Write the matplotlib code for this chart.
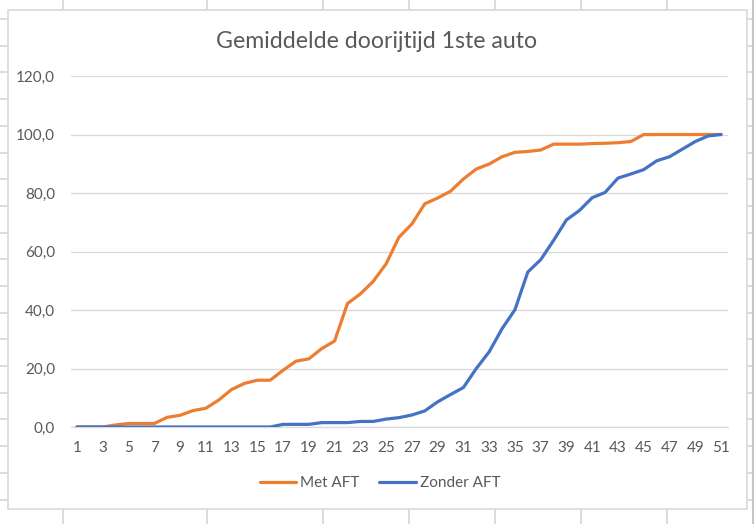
import matplotlib
matplotlib.use("Agg")
import matplotlib.pyplot as plt
from matplotlib.lines import Line2D
from matplotlib.patches import Rectangle
from matplotlib.ticker import FuncFormatter, MultipleLocator

plt.rcParams['font.family'] = ['Lato', 'DejaVu Sans']

title = "Gemiddelde doorijtijd 1ste auto"
categories = list(range(1, 52))
met_aft = [0, 0, 0, 0.7, 1.2, 1.2, 1.2, 3.3, 4.0, 5.6,
           6.4, 9.2, 12.8, 14.9, 16.0, 16.0, 19.4, 22.5, 23.3, 26.8,
           29.4, 42.2, 45.5, 49.8, 55.8, 64.9, 69.4, 76.3, 78.3, 80.6,
           84.8, 88.2, 89.9, 92.4, 93.9, 94.2, 94.7, 96.7, 96.7, 96.7,
           96.9, 97.0, 97.2, 97.6, 100, 100, 100, 100, 100, 100,
           100]
zonder_aft = [0, 0, 0, 0, 0, 0, 0, 0, 0, 0,
              0, 0, 0, 0, 0, 0, 0.9, 0.9, 0.9, 1.5,
              1.5, 1.5, 1.9, 1.9, 2.7, 3.2, 4.1, 5.5, 8.6, 11.1,
              13.5, 20.0, 25.7, 33.6, 40.1, 53.0, 57.2, 63.8, 70.8, 74.0,
              78.4, 80.2, 85.1, 86.5, 88.0, 91.0, 92.4, 95.0, 97.6, 99.5,
              100]
series_names = ["Met AFT", "Zonder AFT"]
xtick_labels = [str(c) for c in categories[::2]]

W, H = 754, 524
fig = plt.figure(figsize=(W / 100, H / 100), dpi=100)
fig.patch.set_facecolor("white")

def fx(x):
    return x / W

def fy(y):
    return 1 - y / H

sheet_col = "#D4D4D4"
# spreadsheet cell grid around the chart
for x in [63, 207, 323, 409, 495, 581, 667]:
    fig.add_artist(Line2D([fx(x), fx(x)], [fy(0), fy(10)], color=sheet_col, lw=1.2, zorder=-2))
    fig.add_artist(Line2D([fx(x), fx(x)], [fy(508), fy(524)], color=sheet_col, lw=1.2, zorder=-2))
y = 19.0
while y < 524:
    fig.add_artist(Line2D([fx(0), fx(7.5)], [fy(y), fy(y)], color=sheet_col, lw=1.2, zorder=-2))
    fig.add_artist(Line2D([fx(747), fx(752)], [fy(y), fy(y)], color=sheet_col, lw=1.2, zorder=-2))
    y += 26.7
fig.add_artist(Line2D([fx(752.5), fx(752.5)], [0, 1], color="#C6C6C6", lw=2.2, zorder=-2))

# chart area border
fig.add_artist(Rectangle((fx(7.5), fy(508.5)), fx(747 - 7.5), (508.5 - 10) / H,
                         transform=fig.transFigure, facecolor="white",
                         edgecolor="#D9D9D9", lw=1.2, zorder=-1))

ax = fig.add_axes([fx(70.5), fy(427), fx(727.5 - 70.5), (427 - 76) / H])
ax.set_facecolor("none")
ax.plot(categories, met_aft, color="#ED7D31", lw=2.3, solid_joinstyle="round",
        solid_capstyle="round", label=series_names[0], zorder=3)
ax.plot(categories, zonder_aft, color="#4472C4", lw=2.3, solid_joinstyle="round",
        solid_capstyle="round", label=series_names[1], zorder=4)

ax.set_xlim(0.5, 51.5)
ax.set_ylim(0, 120)
ax.yaxis.set_major_locator(MultipleLocator(20))
ax.yaxis.set_major_formatter(FuncFormatter(lambda v, p: f"{v:.1f}".replace(".", ",")))
ax.set_xticks(categories[::2])
ax.set_xticklabels(xtick_labels)
ax.grid(axis="y", color="#D9D9D9", lw=0.9)
ax.set_axisbelow(True)
for s in ["top", "right", "left"]:
    ax.spines[s].set_visible(False)
ax.spines["bottom"].set_color("#D9D9D9")
ax.spines["bottom"].set_linewidth(0.9)
ax.tick_params(axis="both", length=0, colors="#595959", labelsize=11)
ax.tick_params(axis="y", pad=11)
ax.tick_params(axis="x", pad=10)

fig.text(0.5, fy(41), title, ha="center", va="center", fontsize=16.7, color="#595959")

leg = fig.legend(loc="center", bbox_to_anchor=(fx(380), fy(483)), ncol=2, frameon=False,
                 fontsize=11, handlelength=2.4, handletextpad=0.25, columnspacing=1.3,
                 labelcolor="#595959")

fig.savefig("out.png", dpi=100)
